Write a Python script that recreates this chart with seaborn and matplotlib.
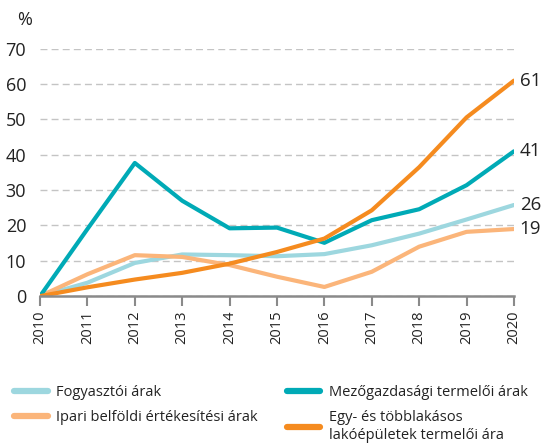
import numpy as np
import pandas as pd
import matplotlib
matplotlib.use('Agg')
import matplotlib.pyplot as plt
import seaborn as sns
from matplotlib.lines import Line2D

# data (cumulative change since 2010, %)
years = [2010, 2011, 2012, 2013, 2014, 2015, 2016, 2017, 2018, 2019, 2020]
fogyasztoi = [0, 3.8, 9.4, 11.8, 11.6, 11.3, 11.9, 14.4, 17.7, 21.7, 25.8]
ipari = [0, 6.2, 11.6, 11.1, 8.8, 5.5, 2.6, 6.9, 14.0, 18.2, 19.0]
mezogazdasagi = [0, 19.0, 37.7, 27.0, 19.2, 19.4, 15.1, 21.5, 24.6, 31.4, 41.0]
lakoepulet = [0, 2.5, 4.7, 6.6, 9.2, 12.5, 16.3, 24.3, 36.5, 50.6, 61.0]

series_names = ['Fogyasztói árak', 'Ipari belföldi értékesítési árak',
                'Mezőgazdasági termelői árak',
                'Egy- és többlakásos\nlakóépületek termelői ára']
series_values = [fogyasztoi, ipari, mezogazdasagi, lakoepulet]
series_colors = ['#9dd7df', '#fbb57a', '#00aab6', '#f58b1f']
end_labels = ['26', '19', '41', '61']

sns.set_theme(style='white')
plt.rcParams['font.family'] = ['Open Sans', 'DejaVu Sans']

fig = plt.figure(figsize=(5.41, 4.44), dpi=100)
ax = fig.add_axes([0.074, 0.333, 0.876, 0.557])

for vals, col in zip(series_values, series_colors):
    sns.lineplot(x=years, y=vals, color=col, linewidth=3.0, ax=ax,
                 solid_capstyle='round', solid_joinstyle='round')

for vals, lab in zip(series_values, end_labels):
    ax.text(2020.12, vals[-1], lab, fontsize=13.5, color='#222222',
            ha='left', va='center')

ax.set_xlim(2010, 2020)
ax.set_ylim(0, 70)
ax.set_yticks(range(0, 80, 10))
ax.set_xticks(years)
ax.set_xticklabels([str(y) for y in years], rotation=90, fontsize=10.5,
                   color='#222222')
ax.tick_params(axis='y', labelsize=13, labelcolor='#222222', length=0, pad=10)
ax.tick_params(axis='x', length=7, width=1.5, color='#8a8a8a', direction='out',
               bottom=True, pad=3)
ax.yaxis.grid(True, linestyle=(0, (5, 3)), color='#c4c4c4', linewidth=1.0)
ax.set_axisbelow(True)
for s in ['left', 'right', 'top']:
    ax.spines[s].set_visible(False)
ax.spines['bottom'].set_color('#8a8a8a')
ax.spines['bottom'].set_linewidth(1.8)
ax.set_xlabel('')
ax.set_ylabel('')

fig.text(0.032, 0.935, '%', fontsize=13, color='#222222', ha='left', va='bottom')

handles = [Line2D([0], [0], color=c, linewidth=4.5, solid_capstyle='round')
           for c in series_colors]
fig.legend(handles, series_names, loc='upper left', bbox_to_anchor=(0.002, 0.162),
           ncol=2, frameon=False, fontsize=10.5, handlelength=2.3,
           handletextpad=0.6, columnspacing=1.95, labelspacing=0.7,
           labelcolor='#222222')

fig.savefig('out.png', dpi=100)
